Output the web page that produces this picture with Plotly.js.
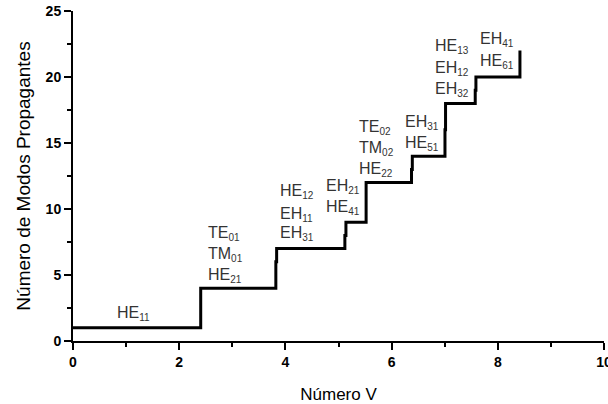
<!DOCTYPE html>
<html><head><meta charset="utf-8">
<script src="https://cdn.plot.ly/plotly-3.0.1.min.js"></script>
<style>html,body{margin:0;padding:0;background:#fff}#c{width:608px;height:404px}</style>
</head><body><div id="c"></div>
<script>
// Step curve: V-number cutoffs and cumulative number of propagating modes
const vNumber = [0, 2.405, 3.82, 3.835, 5.12, 5.14, 5.52, 6.375, 6.39, 7.005, 7.016, 7.575, 7.588, 8.417];
const modeCount = [1, 4, 6, 7, 8, 9, 12, 13, 14, 16, 18, 19, 20, 22];

// Mode labels (name, subscript)
const labelName = ["HE", "TE", "TM", "HE", "HE", "EH", "EH", "EH", "HE", "TE", "TM", "HE", "EH", "HE", "HE", "EH", "EH", "EH", "HE"];
const labelSub = ["11", "01", "01", "21", "12", "11", "31", "21", "41", "02", "02", "22", "31", "51", "13", "12", "32", "41", "61"];
const labelX = [0.79, 2.505, 2.505, 2.505, 3.86, 3.86, 3.86, 4.73, 4.73, 5.35, 5.35, 5.35, 6.21, 6.21, 6.78, 6.78, 6.78, 7.63, 7.63];
const labelY = [2.2, 8.26, 6.67, 5.15, 11.44, 9.77, 8.26, 11.82, 10.23, 16.29, 14.70, 13.11, 16.67, 15.08, 22.5, 20.83, 19.24, 23.03, 21.36];

const xTicks = [0, 2, 4, 6, 8, 10];
const yTicks = [0, 5, 10, 15, 20, 25];

const FONT = 'Liberation Sans, Arial, sans-serif';
const annotations = labelName.map((t, i) => ({
  x: labelX[i], y: labelY[i], xref: 'x', yref: 'y',
  text: t + '<sub><span style="font-size:10px">' + labelSub[i] + '</span></sub>',
  showarrow: false, xanchor: 'left', yanchor: 'middle', yshift: -2,
  font: {family: FONT, size: 16, color: '#333'}
}));

const trace = {
  x: vNumber, y: modeCount, type: 'scatter', mode: 'lines',
  line: {shape: 'hv', color: '#000', width: 3}, hoverinfo: 'none'
};

const tickFont = {family: FONT, size: 14, color: '#000', weight: 700};
const layout = {
  width: 608, height: 404,
  margin: {l: 73, r: 4, t: 11, b: 63},
  paper_bgcolor: '#fff', plot_bgcolor: '#fff',
  showlegend: false,
  xaxis: {
    range: [0, 10], tickvals: xTicks, ticktext: xTicks.map(String),
    showgrid: false, zeroline: false, showline: true, linecolor: '#000', linewidth: 2,
    ticks: 'outside', ticklen: 7, tickwidth: 2, tickcolor: '#000',
    minor: {dtick: 1, ticks: 'outside', ticklen: 4, tickwidth: 2, tickcolor: '#000', showgrid: false},
    tickfont: tickFont, ticklabeloverflow: 'allow',
    title: {text: 'Número V', font: {family: FONT, size: 17, color: '#000'}, standoff: 20}
  },
  yaxis: {
    range: [0, 25], tickvals: yTicks, ticktext: yTicks.map(String),
    showgrid: false, zeroline: false, showline: true, linecolor: '#000', linewidth: 2,
    ticks: 'outside', ticklen: 7, tickwidth: 2, tickcolor: '#000',
    minor: {dtick: 2.5, ticks: 'outside', ticklen: 4, tickwidth: 2, tickcolor: '#000', showgrid: false},
    tickfont: tickFont,
    title: {text: 'Número de Modos Propagantes', font: {family: FONT, size: 19, color: '#000'}, standoff: 10}
  },
  annotations: annotations
};

Plotly.newPlot('c', [trace], layout, {staticPlot: true, displayModeBar: false});
</script>
</body></html>
